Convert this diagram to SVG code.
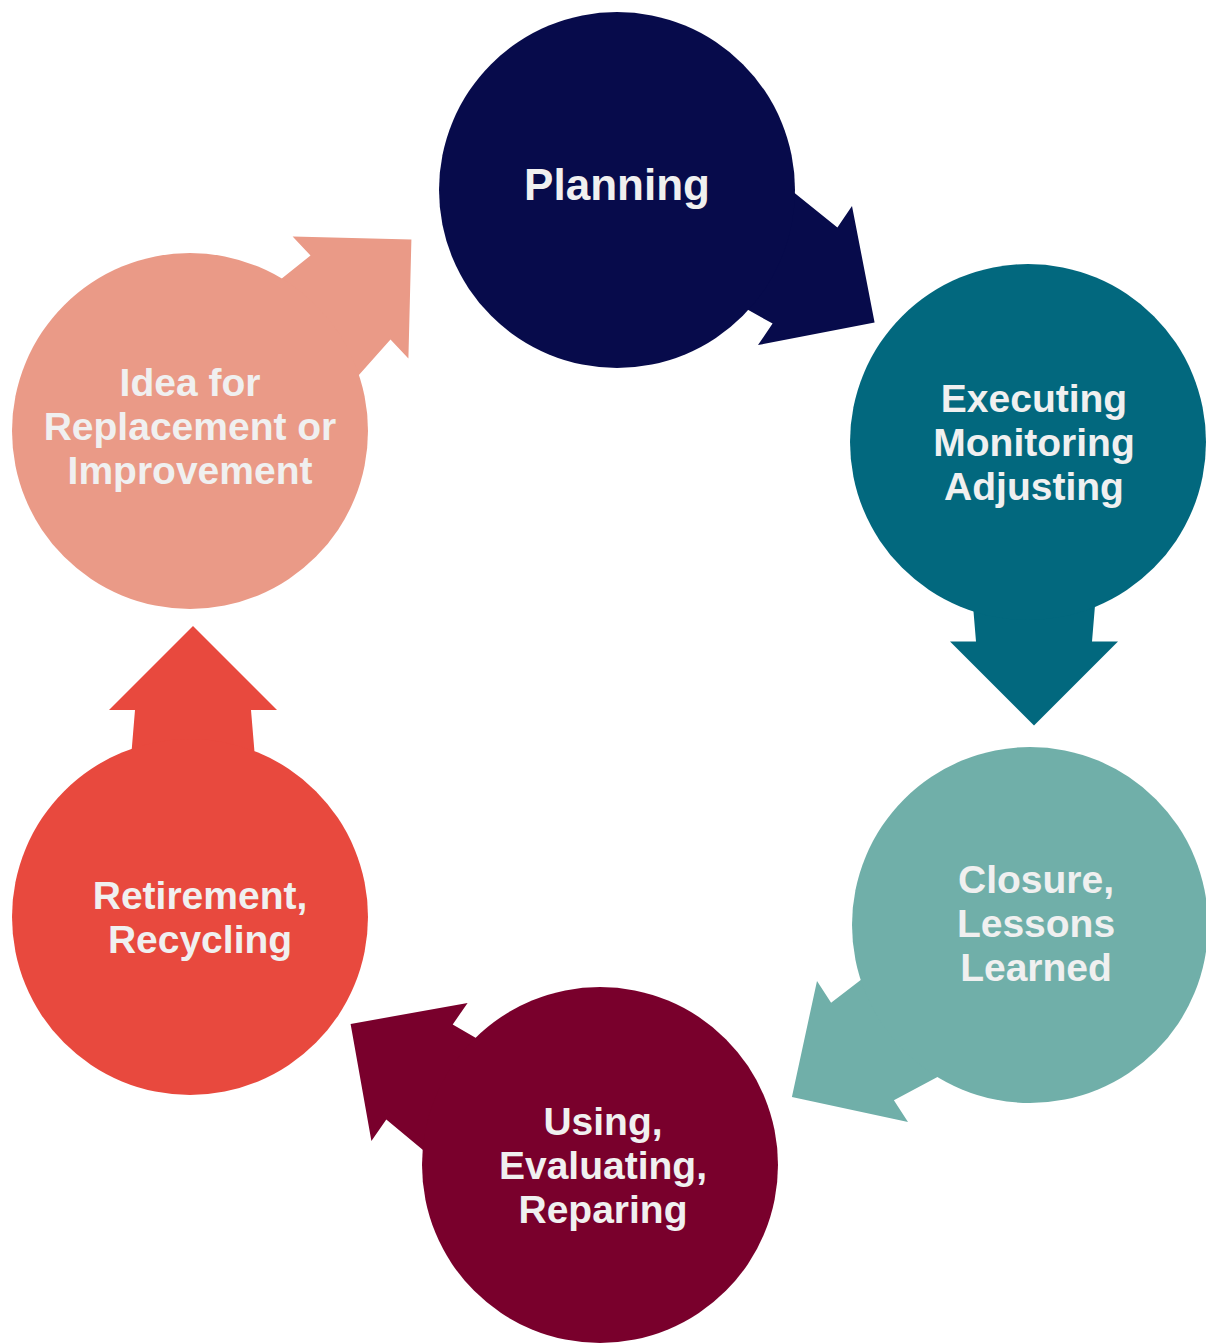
<svg xmlns="http://www.w3.org/2000/svg" width="1206" height="1343" viewBox="0 0 1206 1343">
<style>
.t{font-family:"Liberation Sans",Arial,Helvetica,sans-serif;font-weight:bold;font-size:39px;fill:#f0f0f0;text-anchor:middle}
.big{font-size:44px}
.c1{fill:#070b4b}.c2{fill:#02687e}.c3{fill:#70afa9}.c4{fill:#79002c}.c5{fill:#e8493e}.c6{fill:#ea9a87}
</style>
<rect width="1206" height="1343" fill="#ffffff"/>
<g id="connectors">
<polygon class="c1" points="667.5,264.8 772.6,323.6 758,345.1 874.6,322.5 852,205.9 837.4,227.4 743.5,152"/>
<polygon class="c2" points="966,521.5 976,641.5 950,641.5 1034,725.5 1118,641.5 1092,641.5 1102,521.5"/>
<polygon class="c3" points="1000.2,1043.6 893.9,1100.2 908,1122.1 791.9,1097 817,980.9 831.1,1002.8 926.4,929.4"/>
<polygon class="c4" points="478.9,1196.6 386.3,1119.6 371.4,1140.9 350.6,1023.9 467.6,1003.1 452.7,1024.4 556.9,1085"/>
<polygon class="c5" points="261,830 251,710 277,710 193,626 109,710 135,710 125,830"/>
<polygon class="c6" points="310.4,429.5 390.5,339.6 408.4,358.4 411.4,239.6 292.6,236.6 310.5,255.4 216.6,330.9"/>
</g>
<g id="planning">
<circle class="c1" cx="617" cy="190" r="178"/>
<text class="t big" x="617" y="200">Planning</text>
</g>
<g id="executing">
<circle class="c2" cx="1028" cy="442" r="178"/>
<text class="t" x="1034" y="412">Executing</text>
<text class="t" x="1034" y="456">Monitoring</text>
<text class="t" x="1034" y="500">Adjusting</text>
</g>
<g id="closure">
<circle class="c3" cx="1030" cy="925" r="178"/>
<text class="t" x="1036" y="893">Closure,</text>
<text class="t" x="1036" y="937">Lessons</text>
<text class="t" x="1036" y="981">Learned</text>
</g>
<g id="using">
<circle class="c4" cx="600" cy="1165" r="178"/>
<text class="t" x="603" y="1135">Using,</text>
<text class="t" x="603" y="1179">Evaluating,</text>
<text class="t" x="603" y="1223">Reparing</text>
</g>
<g id="retirement">
<circle class="c5" cx="190" cy="917" r="178"/>
<text class="t" x="200" y="909">Retirement,</text>
<text class="t" x="200" y="953">Recycling</text>
</g>
<g id="idea">
<circle class="c6" cx="190" cy="431" r="178"/>
<text class="t" x="190" y="396">Idea for</text>
<text class="t" x="190" y="440">Replacement or</text>
<text class="t" x="190" y="484">Improvement</text>
</g>
</svg>
